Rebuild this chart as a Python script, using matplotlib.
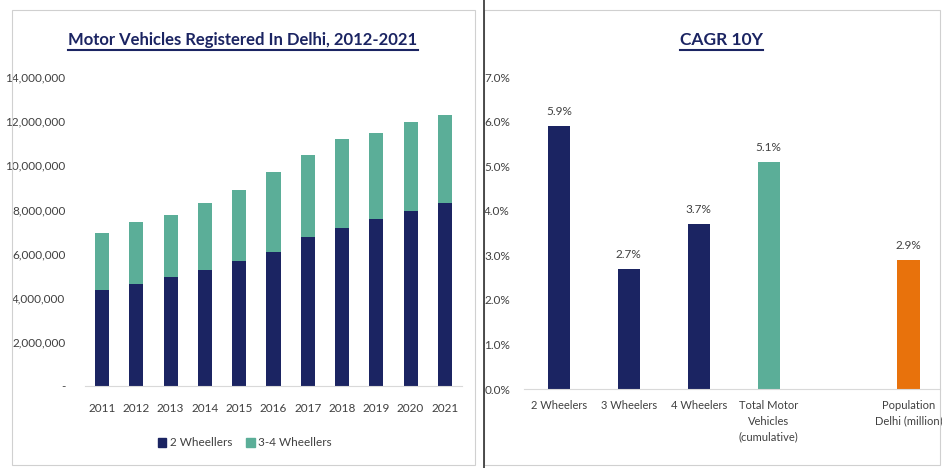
import matplotlib
matplotlib.use("Agg")
import matplotlib.pyplot as plt
from matplotlib.patches import Rectangle, Patch
from matplotlib.lines import Line2D
from matplotlib.ticker import FuncFormatter, MultipleLocator

plt.rcParams['font.family'] = ['Lato', 'DejaVu Sans']

# left chart data
years = ['2011', '2012', '2013', '2014', '2015', '2016', '2017', '2018', '2019', '2020', '2021']
two_wheelers = [4.36e6, 4.64e6, 4.95e6, 5.27e6, 5.68e6, 6.09e6, 6.73e6, 7.18e6, 7.55e6, 7.95e6, 8.27e6]
total_vehicles = [6.95e6, 7.45e6, 7.77e6, 8.27e6, 8.86e6, 9.68e6, 10.45e6, 11.18e6, 11.45e6, 11.95e6, 12.27e6]
three_four_wheelers = [t - w for t, w in zip(total_vehicles, two_wheelers)]

# right chart data
cagr_labels = ['2 Wheelers', '3 Wheelers', '4 Wheelers', 'Total Motor\nVehicles\n(cumulative)', '',
               'Population\nDelhi (million)']
cagr_values = [5.9, 2.7, 3.7, 5.1, None, 2.9]
cagr_colors = ['#1b2462', '#1b2462', '#1b2462', '#5bae98', 'none', '#e8720c']

navy = '#1b2462'
teal = '#5bae98'
text_col = '#404040'

fig = plt.figure(figsize=(9.42, 4.68), dpi=100)
W, H = 942, 468


def fx(px):
    return px / W


def fy(py):
    return 1 - py / H


# panel frames
fig.add_artist(Rectangle((fx(12), fy(465)), fx(463), 455 / H, transform=fig.transFigure,
                         fill=False, edgecolor='#d0d0d0', lw=0.8))
fig.add_artist(Rectangle((fx(484), fy(465)), fx(456), 455 / H, transform=fig.transFigure,
                         fill=False, edgecolor='#d0d0d0', lw=0.8))
fig.add_artist(Line2D([fx(484), fx(484)], [0, 1], transform=fig.transFigure, color='#303030', lw=1.2))

# ---- left chart
ax1 = fig.add_axes([fx(85), fy(386), fx(377), (386 - 77) / H])
x = range(len(years))
ax1.bar(x, two_wheelers, width=0.41, color=navy, label='2 Wheellers')
ax1.bar(x, three_four_wheelers, width=0.41, bottom=two_wheelers, color=teal, label='3-4 Wheellers')
ax1.set_xlim(-0.5, len(years) - 0.5)
ax1.set_ylim(0, 14e6)
ax1.set_xticks(list(x))
ax1.set_xticklabels(years)
ax1.yaxis.set_major_locator(MultipleLocator(2e6))
ax1.yaxis.set_major_formatter(FuncFormatter(lambda v, p: '-' if v == 0 else f'{v:,.0f}'))
for s in ['top', 'right', 'left']:
    ax1.spines[s].set_visible(False)
ax1.spines['bottom'].set_color('#d9d9d9')
ax1.tick_params(length=0, labelsize=8.5, colors=text_col)
ax1.tick_params(axis='x', pad=12)
ax1.tick_params(axis='y', pad=14)

fig.legend(handles=[Patch(color=navy, label='2 Wheellers'), Patch(color=teal, label='3-4 Wheellers')],
           loc='center', bbox_to_anchor=(fx(245), fy(443)), ncol=2, frameon=False,
           fontsize=8.5, handlelength=0.7, handleheight=0.7, handletextpad=0.3, columnspacing=1.2,
           labelcolor=text_col)

# ---- right chart
ax2 = fig.add_axes([fx(524), fy(389), fx(416), (389 - 77) / H])
pos = range(len(cagr_labels))
for i, (v, c) in enumerate(zip(cagr_values, cagr_colors)):
    if v is None:
        continue
    ax2.bar(i, v, width=0.32, color=c)
    ax2.text(i, v + 0.2, f'{v:.1f}%', ha='center', va='bottom', fontsize=8.5, color=text_col)
ax2.set_xlim(-0.5, 5.45)
ax2.set_ylim(0, 7)
ax2.set_xticks(list(pos))
ax2.set_xticklabels(cagr_labels, va='top', linespacing=1.5)
ax2.yaxis.set_major_locator(MultipleLocator(1))
ax2.yaxis.set_major_formatter(FuncFormatter(lambda v, p: f'{v:.1f}%'))
for s in ['top', 'right', 'left']:
    ax2.spines[s].set_visible(False)
ax2.spines['bottom'].set_color('#d9d9d9')
ax2.tick_params(length=0, labelsize=8.5, colors=text_col)
ax2.tick_params(axis='x', pad=8)
ax2.tick_params(axis='y', pad=10)
for lab in ax2.get_xticklabels():
    lab.set_fontsize(8)
ax2.get_xticklabels()[-1].set_x(4.97)

# titles with underline
t1 = fig.text(fx(243), fy(40), 'Motor Vehicles Registered In Delhi, 2012-2021', ha='center', va='center',
              fontsize=12, fontweight='bold', color=navy)
t2 = fig.text(fx(721), fy(40), 'CAGR 10Y', ha='center', va='center',
              fontsize=12.5, fontweight='bold', color=navy)
fig.canvas.draw()
r = fig.canvas.get_renderer()
for t in (t1, t2):
    bb = t.get_window_extent(r).transformed(fig.transFigure.inverted())
    fig.add_artist(Line2D([bb.x0, bb.x1], [bb.y0 - 0.004, bb.y0 - 0.004], transform=fig.transFigure,
                          color=navy, lw=1.5))

fig.savefig('out.png', dpi=100)
